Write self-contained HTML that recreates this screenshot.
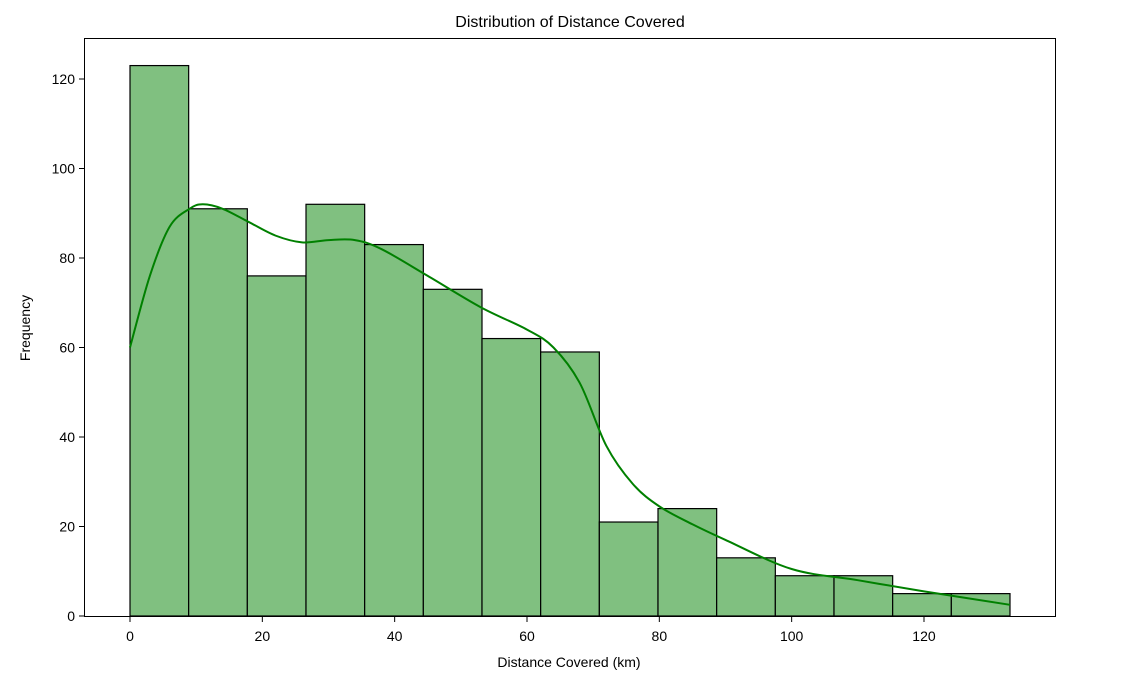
<!DOCTYPE html>
<html><head><meta charset="utf-8"><style>
html,body{margin:0;padding:0;background:#fff;}
svg{display:block;font-family:"Liberation Sans","DejaVu Sans",sans-serif;}
</style></head><body>
<svg id="chart" width="1127" height="682" viewBox="0 0 1127 682">
<text x="570" y="27" text-anchor="middle" font-size="16" fill="#000">Distribution of Distance Covered</text>
<g id="bars"></g>
<path id="kde" fill="none" stroke="#008000" stroke-width="2"/>
<rect x="84.5" y="38.5" width="971" height="578" fill="none" stroke="#000" stroke-width="1"/>
<g id="xticks"></g>
<g id="yticks"></g>
<text x="569" y="667" text-anchor="middle" font-size="14">Distance Covered (km)</text>
<text transform="translate(30,328) rotate(-90)" text-anchor="middle" font-size="14">Frequency</text>
</svg>
<script>
const counts = [123, 91, 76, 92, 83, 73, 62, 59, 21, 24, 13, 9, 9, 5, 5];
const binStart = 0;
const binEnd = 133;
const kdeX = [0, 3, 6, 9, 11, 14, 18, 22, 26, 30, 34, 38, 45, 53, 60, 64, 68, 72, 76, 80, 85, 90, 100, 110, 120, 133];
const kdeY = [60, 76, 87, 91, 92, 91, 88, 85, 83.5, 84, 84, 82, 76, 69, 64, 60, 52, 38, 29.5, 24.5, 20.5, 17, 10.5, 8, 5.5, 2.5];
const xTicks = [0, 20, 40, 60, 80, 100, 120];
const yTicks = [0, 20, 40, 60, 80, 100, 120];
const NS = "http://www.w3.org/2000/svg";
const X0 = 130, XPX = (1010 - 130) / 133;
const Y0 = 616, YPX = 537 / 120;
function xs(v){return X0 + (v - 0) * XPX;}
function ys(v){return Y0 - v * YPX;}
const bw = (binEnd - binStart) / counts.length;
const barsG = document.getElementById('bars');
counts.forEach((c,i)=>{
  const r = document.createElementNS(NS,'rect');
  const x1 = xs(binStart + i*bw), x2 = xs(binStart + (i+1)*bw);
  r.setAttribute('x', x1); r.setAttribute('y', ys(c));
  r.setAttribute('width', x2-x1); r.setAttribute('height', ys(0)-ys(c));
  r.setAttribute('fill', '#80c080'); r.setAttribute('stroke', '#000'); r.setAttribute('stroke-width', '1.2');
  
  
  barsG.appendChild(r);
});
const pts = kdeX.map((x,i)=>[xs(x), ys(kdeY[i])]);
let d = 'M' + pts[0][0] + ',' + pts[0][1];
for (let i=0;i<pts.length-1;i++){
  const p0 = pts[Math.max(0,i-1)], p1 = pts[i], p2 = pts[i+1], p3 = pts[Math.min(pts.length-1,i+2)];
  const c1 = [p1[0]+(p2[0]-p0[0])/6, p1[1]+(p2[1]-p0[1])/6];
  const c2 = [p2[0]-(p3[0]-p1[0])/6, p2[1]-(p3[1]-p1[1])/6];
  d += ' C'+c1[0]+','+c1[1]+' '+c2[0]+','+c2[1]+' '+p2[0]+','+p2[1];
}
document.getElementById('kde').setAttribute('d', d);
const xg = document.getElementById('xticks');
xTicks.forEach(t=>{
  const l = document.createElementNS(NS,'line');
  l.setAttribute('x1', xs(t)); l.setAttribute('x2', xs(t)); l.setAttribute('y1', 617); l.setAttribute('y2', 622);
  l.setAttribute('stroke', '#000');
  
  
  xg.appendChild(l);
  const tx = document.createElementNS(NS,'text');
  tx.setAttribute('x', xs(t)); tx.setAttribute('y', 641); tx.setAttribute('text-anchor','middle'); tx.setAttribute('font-size','14');
  tx.textContent = t;
  
  
  xg.appendChild(tx);
});
const yg = document.getElementById('yticks');
yTicks.forEach(t=>{
  const l = document.createElementNS(NS,'line');
  l.setAttribute('x1', 79); l.setAttribute('x2', 84); l.setAttribute('y1', ys(t)); l.setAttribute('y2', ys(t));
  l.setAttribute('stroke', '#000');
  
  
  yg.appendChild(l);
  const tx = document.createElementNS(NS,'text');
  tx.setAttribute('x', 75); tx.setAttribute('y', ys(t)+5); tx.setAttribute('text-anchor','end'); tx.setAttribute('font-size','14');
  tx.textContent = t;
  
  
  yg.appendChild(tx);
});
</script>
</body></html>
